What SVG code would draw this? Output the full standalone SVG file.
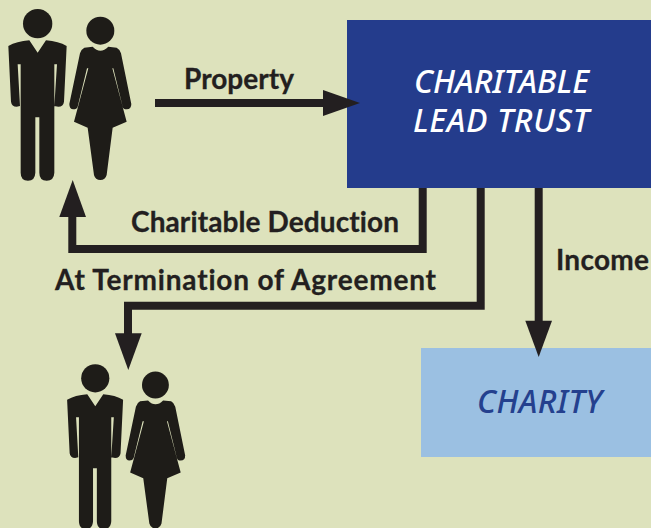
<svg xmlns="http://www.w3.org/2000/svg" width="651" height="528" viewBox="0 0 651 528">
<style>
.fig{fill:#1e1c18}
.ln{fill:none;stroke:#231f20;stroke-width:8;stroke-linejoin:miter}
.hd{fill:#231f20}
.lb{font-family:"Lato","Liberation Sans",sans-serif;font-weight:700;font-size:28px;fill:#231f20;stroke:#231f20;stroke-width:.3;font-variant-ligatures:none}
.tt{font-family:"Noto Sans","Liberation Sans",sans-serif;font-style:italic;font-weight:500;font-size:32px}
</style>
<defs>
<g id="couple" class="fig">
<circle cx="113" cy="71" r="44"/>
<path d="M25 138Q50 124 88 121L113 158L138 121Q176 124 200 138L192 305Q190 320 175 320L163 318L171 193L163 193L163 518Q162 542 140 542Q118 542 118 518L118 352L106 352L106 518Q105 542 84 542Q62 542 62 518L62 193L53 193L60 318L50 320Q35 320 33 305Z"/>
<circle cx="301" cy="92" r="42"/>
<path d="M278 140Q301 164 325 140L350 143Q360 148 363 160L394 312Q394 328 380 328Q370 328 368 320L340 205L337 205L380 365L338 383L320 525Q316 540 301 540Q286 540 282 525L263 383L222 365L265 205L261 205L233 320Q230 328 220 328Q208 328 208 312L240 160Q243 148 253 143Z"/>
</g>
</defs>
<rect width="651" height="528" fill="#dde2bc"/>
<g id="donors"><use href="#couple" transform="scale(0.3333)"/></g>
<g id="heirs"><use href="#couple" transform="translate(59.100 355.600) scale(0.32)"/></g>
<g id="trust"><rect x="347" y="20" width="304" height="168" fill="#243c8c"/>
<text class="tt" x="414" y="93" fill="#fff" textLength="175">CHARITABLE</text>
<text class="tt" x="413" y="132" fill="#fff" textLength="176">LEAD TRUST</text></g>
<g id="charity"><rect x="421" y="348" width="230" height="109" fill="#9bc0e2"/>
<text class="tt" x="477" y="413" fill="#24408e" textLength="125">CHARITY</text></g>
<g id="connectors">
<path class="ln" d="M155 103H325"/>
<path class="hd" d="M323 90L360 103L323 116Z"/>
<path class="ln" d="M422.700 188V249H72.300V215"/>
<path class="hd" d="M59.300 217L72.700 180L86 217Z"/>
<path class="ln" d="M480.700 188V305.700H128V335"/>
<path class="hd" d="M115 333.300H141.700L128.300 370Z"/>
<path class="ln" d="M538.700 188V322"/>
<path class="hd" d="M525.300 320.700H552L538.700 357Z"/>
</g>
<g id="labels">
<text class="lb" x="184" y="89" textLength="110">Property</text>
<text class="lb" x="131" y="232" textLength="268">Charitable Deduction</text>
<text class="lb" x="55" y="290" textLength="381">At Termination of Agreement</text>
<text class="lb" x="556" y="270" textLength="93">Income</text>
</g>
</svg>
